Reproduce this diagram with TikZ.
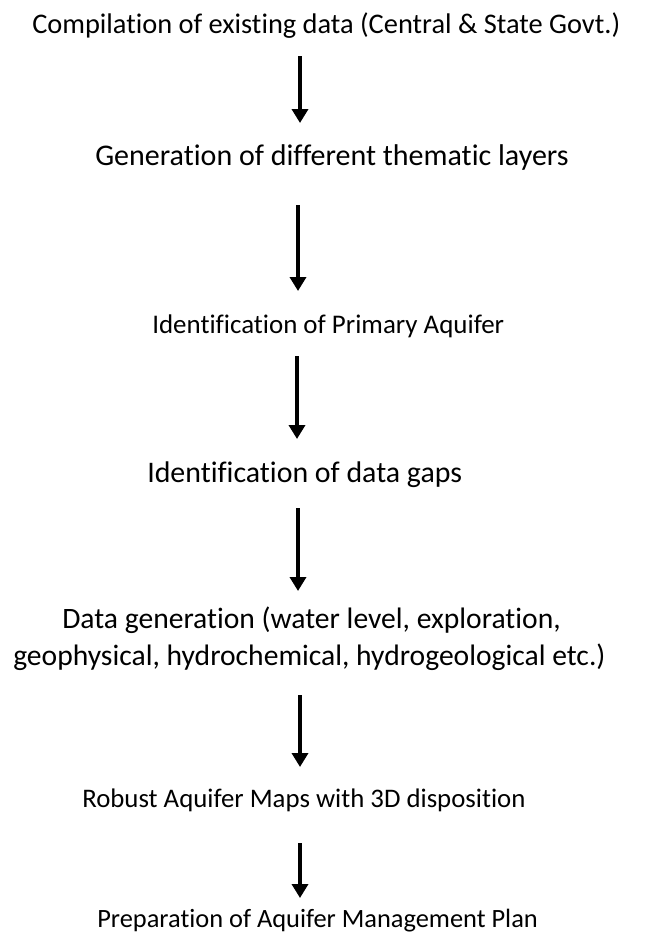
\documentclass[tikz,border=0pt]{standalone}
\usepackage{fontspec}
\setmainfont[Ligatures={NoCommon}]{Carlito}
\usetikzlibrary{arrows.meta}

\tikzset{
  steptext/.style={inner sep=0pt, anchor=base west},
  flowarrow/.style={line width=3pt, -{Triangle[width=12pt,length=10.5pt]}}
}
\newcommand{\fsz}[1]{\fontsize{#1}{#1}\selectfont}

\begin{document}
\begin{tikzpicture}[x=0.75pt,y=-0.75pt]
  \useasboundingbox (0,0) rectangle (646,933);
  \node [steptext, font=\fsz{21.3}] (compile) at (32,33) {Compilation of existing data (Central \& State Govt.)};
  \node [steptext, font=\fsz{22.5}] (layers) at (95,165) {Generation of different thematic layers};
  \node [steptext, font=\fsz{20.2}] (primary) at (152,333) {Identification of Primary Aquifer};
  \node [steptext, font=\fsz{22.4}] (gaps) at (147,482) {Identification of data gaps};
  \node [steptext, font=\fsz{22.2}] (datagen) at (62,628) {Data generation (water level, exploration,};
  \node [steptext, font=\fsz{22.2}] (datagenb) at (13,665) {geophysical, hydrochemical, hydrogeological etc.)};
  \node [steptext, font=\fsz{20.1}] (maps) at (82,807) {Robust Aquifer Maps with 3D disposition};
  \node [steptext, font=\fsz{19.8}] (plan) at (97,927) {Preparation of Aquifer Management Plan};
  \coordinate (a1s) at (300,56);  \coordinate (a1e) at (300,123);
  \coordinate (a2s) at (298,205); \coordinate (a2e) at (298,291);
  \coordinate (a3s) at (297,356); \coordinate (a3e) at (297,439);
  \coordinate (a4s) at (298,508); \coordinate (a4e) at (298,591);
  \coordinate (a5s) at (300,695); \coordinate (a5e) at (300,767);
  \coordinate (a6s) at (300,843); \coordinate (a6e) at (300,898);
  \draw [flowarrow] (a1s) -- (a1e);
  \draw [flowarrow] (a2s) -- (a2e);
  \draw [flowarrow] (a3s) -- (a3e);
  \draw [flowarrow] (a4s) -- (a4e);
  \draw [flowarrow] (a5s) -- (a5e);
  \draw [flowarrow] (a6s) -- (a6e);
\end{tikzpicture}
\end{document}
